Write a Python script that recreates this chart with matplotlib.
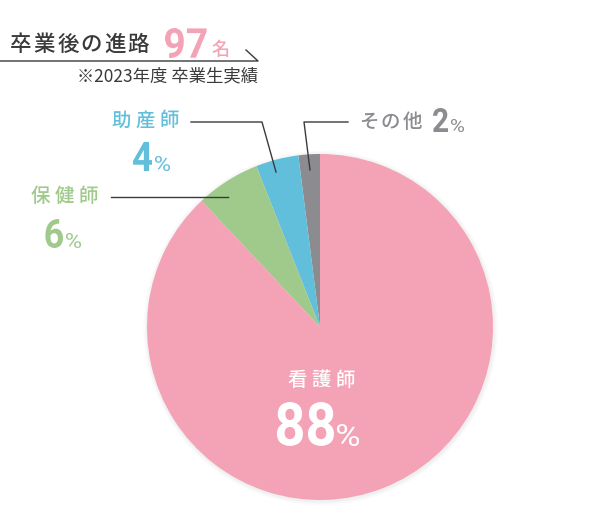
import matplotlib
matplotlib.use('Agg')
import matplotlib.pyplot as plt
from matplotlib.patches import Circle, PathPatch
from matplotlib.textpath import TextPath
from matplotlib.font_manager import FontProperties
from matplotlib.transforms import Affine2D

plt.rcParams['font.family'] = ['Noto Sans CJK JP', 'DejaVu Sans']

# data
categories = ['その他', '助産師', '保健師', '看護師']
shares = [2, 4, 6, 88]
colors = ['#8c8c90', '#62bfdb', '#9fca8c', '#f4a2b6']
total_graduates = 97
title = '卒業後の進路'
subtitle = '※2023年度 卒業生実績'

W, H = 600, 530
fig = plt.figure(figsize=(6, 5.3), dpi=100)

# pie in its own axes, centre (320, 327) px, radius 173 px
cx, cy, r = 320, 327, 173
pad = 1.06
pie_ax = fig.add_axes([(cx - r * pad) / W, (H - cy - r * pad) / H,
                       2 * r * pad / W, 2 * r * pad / H])
# soft shadow
for k, a in enumerate([0.025, 0.02, 0.015]):
    pie_ax.add_patch(Circle((0.004, -0.006), 1.0 + 0.008 * (k + 1),
                            color='#000000', alpha=a, lw=0, zorder=0))
pie_ax.pie(shares, colors=colors, startangle=90, counterclock=True, radius=1,
           wedgeprops=dict(linewidth=0))
pie_ax.set_xlim(-pad, pad)
pie_ax.set_ylim(-pad, pad)
pie_ax.set_aspect('equal')
pie_ax.axis('off')

# overlay in pixel coordinates
ax = fig.add_axes([0, 0, 1, 1], facecolor='none')
ax.set_xlim(0, W)
ax.set_ylim(H, 0)
ax.axis('off')

dark = '#3a3a3a'
num_prop = FontProperties(family='Roboto', weight='semibold')
pct_prop = FontProperties(family='Roboto', weight='normal')


def spaced(x0, y, s, step, **kw):
    # draw characters one by one with letter spacing, x0 = centre of first char
    for i, ch in enumerate(s):
        ax.text(x0 + i * step, y, ch, va='center', ha='center', **kw)


def condensed(x, y_base, s, height, color, prop, sx=0.9, ha='left'):
    # number glyphs scaled to a given pixel height, squeezed horizontally
    tp = TextPath((0, 0), s, size=1, prop=prop)
    ext = tp.get_extents()
    k = height / ext.height if ext.height else height
    w = ext.width * k * sx
    x0 = x - w if ha == 'right' else x
    tr = Affine2D().translate(-ext.x0, -ext.y0).scale(k * sx, -k).translate(x0, y_base)
    ax.add_patch(PathPatch(tr.transform_path(tp), fc=color, lw=0))
    return x0, x0 + w


def pct_label(x, y_base, value, color, big_h, small_h):
    condensed(x, y_base, str(value), big_h, color, num_prop, ha='right')
    condensed(x + 3, y_base, '%', small_h, color, pct_prop, sx=1.15)


# header
spaced(21, 45, title, 23.5, fontsize=15.5, color=dark, fontweight='medium')
condensed(165, 58, str(total_graduates), 30, colors[3], num_prop, sx=0.95)
ax.text(212, 55, '名', fontsize=13, color=colors[3], va='baseline', ha='left',
        fontweight='medium')
ax.plot([0, 258, 246], [61, 61, 50], color=dark, lw=1)
ax.text(258, 76, subtitle, fontsize=12.5, color=dark, va='center', ha='right')

# 助産師
spaced(121, 121, categories[1], 24, fontsize=14, color=colors[1], fontweight='medium')
pct_label(152, 171, shares[1], colors[1], 29, 15)
ax.plot([191, 262, 276], [122, 122, 172], color=dark, lw=1)

# その他
spaced(369, 122, categories[0], 21.5, fontsize=14, color=colors[0], fontweight='medium')
pct_label(448, 132, shares[0], colors[0], 24, 13)
ax.plot([348, 304, 310], [122, 122, 170], color=dark, lw=1)

# 保健師
spaced(40, 197, categories[2], 24, fontsize=14, color=colors[2], fontweight='medium')
pct_label(63, 248, shares[2], colors[2], 29, 15)
ax.plot([111, 228], [197, 197], color=dark, lw=1)

# 看護師
spaced(297, 380, categories[3], 24, fontsize=14, color='white', fontweight='medium')
pct_label(334, 446, shares[3], 'white', 44, 22)

fig.savefig('out.png', dpi=100)
